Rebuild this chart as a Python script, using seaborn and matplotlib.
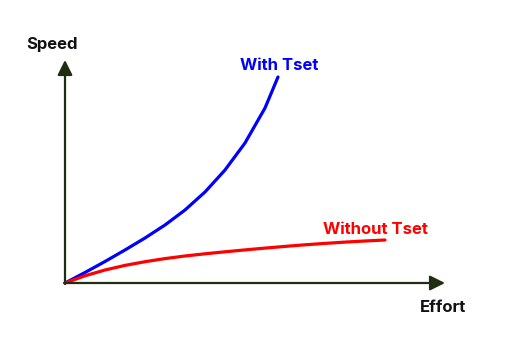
import matplotlib
matplotlib.use("Agg")
import matplotlib.pyplot as plt
import seaborn as sns
import pandas as pd

sns.set_style("white")
plt.rcParams['font.family'] = ['Inter', 'DejaVu Sans']

# values (effort vs speed, arbitrary units)
effort_with = [0, 20, 40, 60, 80, 100, 120, 140, 160, 180, 200, 213]
speed_with = [0, 10.5, 21.5, 33, 45, 58, 73, 91, 113, 140, 175, 206]
effort_without = [0, 20, 40, 60, 80, 100, 120, 140, 160, 180, 200, 220, 240, 260, 280, 300, 320]
speed_without = [0, 7.2, 13.0, 17.6, 21.3, 24.4, 27.0, 29.2, 31.2, 33.1, 34.9, 36.6, 38.2,
                 39.6, 40.9, 42.0, 43.0]

labels = {"with": "With Tset", "without": "Without Tset"}

df = pd.concat([
    pd.DataFrame({"Effort": effort_with, "Speed": speed_with, "series": labels["with"]}),
    pd.DataFrame({"Effort": effort_without, "Speed": speed_without, "series": labels["without"]}),
])

fig = plt.figure(figsize=(5.10, 3.44), dpi=100)
ax = fig.add_axes([0, 0, 1, 1])
sns.lineplot(data=df, x="Effort", y="Speed", hue="series", sort=False,
             palette={labels["with"]: "#0000ff", labels["without"]: "#ff0000"},
             linewidth=2.3, legend=False, ax=ax)
for ln in ax.get_lines():
    ln.set_solid_joinstyle("round")
    ln.set_solid_capstyle("round")
ax.set_xlim(-65, 445)
ax.set_ylim(-61, 283)
ax.axis("off")

axc = "#1f2e10"
ap = dict(arrowstyle="-|>,head_length=0.9,head_width=0.45", color=axc, lw=1.6,
          shrinkA=0, shrinkB=0)
ax.annotate("", xy=(380, 0), xytext=(-0.8, 0), arrowprops=ap)
ax.annotate("", xy=(0, 223), xytext=(0, -0.8), arrowprops=ap)

ax.text(-13, 239, "Speed", ha="center", va="center", fontsize=12, fontweight="bold", color="#111111")
ax.text(378, -24, "Effort", ha="center", va="center", fontsize=12, fontweight="bold", color="#111111")
ax.text(214, 218, labels["with"], ha="center", va="center", fontsize=12, fontweight="bold", color="#0000ff")
ax.text(310, 54, labels["without"], ha="center", va="center", fontsize=12, fontweight="bold", color="#ff0000")

fig.savefig("out.png", dpi=100)
